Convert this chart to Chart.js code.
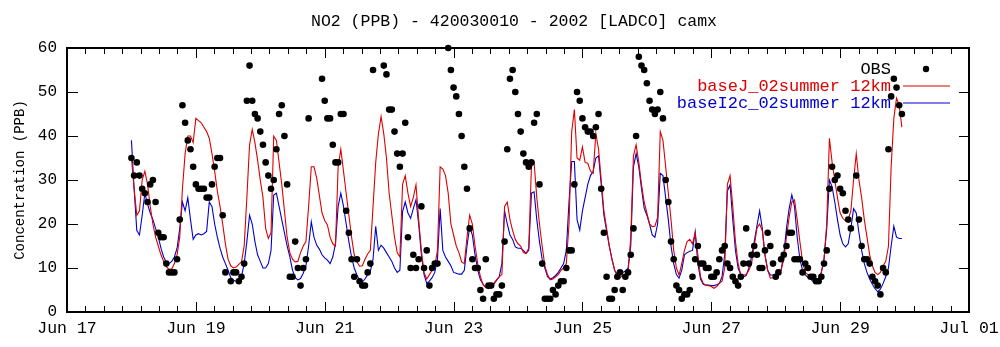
<!DOCTYPE html>
<html>
<head>
<meta charset="utf-8">
<script src="https://cdn.jsdelivr.net/npm/chart.js@4.4.1/dist/chart.umd.min.js"></script>
<style>
  html, body { margin: 0; padding: 0; background: #fff; }
  #wrap { width: 1000px; height: 347px; position: relative; }
</style>
</head>
<body>
<div id="wrap"><canvas id="c" width="1000" height="347"></canvas></div>
<script>
// NO2 hourly concentrations (ppb) at site 420030010, 2002-06-18 00:00 .. 2002-06-29 23:00
const chartTitle = 'NO2 (PPB) - 420030010 - 2002 [LADCO] camx';
const yTitle = 'Concentration (PPB)';
const firstHour = 24;            // hours after Jun 17 00:00 of the first record
const xTickLabels = ['Jun 17', 'Jun 19', 'Jun 21', 'Jun 23', 'Jun 25', 'Jun 27', 'Jun 29', 'Jul 01'];
const xTickStep = 48;            // hours between labelled ticks
const yTicks = [0, 10, 20, 30, 40, 50, 60];

const seriesNames = ['OBS', 'baseJ_02summer 12km', 'baseI2c_02summer 12km'];

const obs = [
  35,31,34,31,28,27,25,29,30,25, 18,17,17,11,9,9,9,12,21,47,
  43,39,37,33,29,28,28,28,26,26, 29,33,35,35,22,9,null,7,9,9,
  7,8,11,48,56,48,45,44,41,38, 34,31,28,30,37,45,47,40,29,8,
  8,16,10,6,10,12,44,null,null,null, null,53,48,44,44,38,34,34,45,45,
  23,18,12,8,12,7,6,6,9,11, 55,null,null,null,56,54,46,46,41,36,
  33,36,43,17,10,13,10,12,24,10, 14,6,10,11,11,null,null,null,60,55,
  51,49,45,40,33,28,19,12,10,10, 5,3,12,6,6,3,4,4,6,16,
  37,53,55,50,45,41,36,34,33,34, 43,45,29,11,3,3,3,5,4,6,
  7,7,10,14,14,29,50,48,44,42, 41,41,40,42,45,28,18,8,3,3,
  5,8,9,5,8,9,13,19,40,58, 56,55,52,48,46,45,46,50,44,30,
  25,16,12,6,5,3,4,4,5,8, 12,15,11,11,10,10,8,8,9,12,
  14,15,11,10,8,7,6,8,11,19, 11,13,15,13,10,10,14,18,15,11,
  8,9,12,13,15,18,18,12,12,12, 9,11,10,8,8,7,7,8,11,14,
  28,33,30,31,28,27,23,21,19,null, 31,21,15,12,12,11,8,7,6,4,
  10,9,37,49,53,51,47,45
];

const baseJ = [
  35,28,22,23,30,32,29,24,20,17,15,13,
  11.5,10.3,9.7,9.8,11,13,17,28,36,40,40,38.5,
  44,43.5,43,42,41,39.5,36,32,27.5,24,20,15.5,
  12,10.5,10,10.2,10.8,11.4,15,26,38,41.5,38.5,34.5,
  30,26,19,16.7,18,40,39,34,29,23,17,13.5,
  12,11.4,11.5,13.5,15,16,24,33,33,30.5,26.5,22.5,
  20.8,19.8,17,15.5,15,33,37,32,27,22,17,13,
  11.4,10.4,10.5,12,13.2,14,24,34,40.5,44.4,40.5,35,
  27,22,17,13.5,12.5,29,31,27,24,26,28.9,21,
  14,9,7.5,8.5,9.5,10.5,14,33,32.5,31,27,20,
  17.5,15,13.5,11.4,11,17,22,20,15,11,8,6.2,
  5.5,5.4,6,6.5,7.3,8,8.5,24,25,21,18.5,16.5,
  15.5,15,13.5,13.3,14.5,33,34,26,20,15,10.5,8.5,
  7.3,7.5,8,8.5,9.5,10,11,20,41,46,35,34.5,
  37.5,34,33.8,32,31.5,40.6,37,30,23,19,15,12,
  9.5,8,7.8,8.3,8.6,9,17,35.5,38,34,29,25,
  22.5,20,19.4,19.5,21.5,41,39,33,27,21,14,10,
  8.4,11,14,16,16.5,15.5,18,13,8,6.5,6.1,6,
  5.8,5.4,5.8,6.5,7,10,29,31,24,16,11,8.4,
  8.4,8.5,9.5,11,15,19,20,18.5,13,9.5,7.7,7.8,
  8.3,8.5,9.5,12,17,21.5,25,25.5,21,16,11.5,9,
  8.5,8.3,7.5,7,7.5,9,12,20,39.5,34,30,26,
  22.5,21.3,20.7,21,23,30,36,30,26,21,17,13,
  10.5,9,8.5,9,10.5,11.5,15,33,44,48.6,47,42
];

const baseI2c = [
  39,28,18.5,17.5,22,27,24.5,22.5,21,19,17,14.5,
  12.5,11.3,11,11.5,12.5,14.5,19,25,23,26,21,16.5,
  17.5,17.8,17.5,17.8,18.3,25,24,20,17,14.5,12.5,11,
  9.5,7.8,7.2,7,7.3,8,11,16,22,20,16,13,
  11.5,10,10,11,14,26.6,27,24,21,18,15,12.6,
  9.5,7.8,7.3,7.6,8.8,10.5,15,20.5,17,15.2,14.3,13,
  12.3,11.8,11,12.5,15.5,24,27,24,20,16,12.5,10,
  8.4,7.2,6.8,7.5,8.5,9.2,12,19.5,14,15.2,14.5,13.5,
  12.5,11.5,10,9,9.5,22.8,25,22.5,21.3,23.5,25.5,20,
  13,8.5,6.5,7,7.8,9,12,23.5,14,12.5,11.5,10.5,
  9,8.8,8.6,8.6,9.5,15,19.4,17.5,13,9.5,7.3,6.3,
  5.6,5.3,5.6,6.3,7.2,8,11,23,20,17.5,16.5,14.8,
  14.5,14.5,14,13.3,14,27,27.3,21,16,12,10,8,
  7.5,7.8,8.3,9,10,11,14,25,34.2,34.2,21,18.6,
  23,26,29,31,32,35,35.5,29,22,18.5,15,12,
  9.5,8.5,8.8,9,9.3,10,15,33,36,33,28,23.6,
  22,20,17.5,17,20,31.5,31,26,21,15,11,8.5,
  7.7,9.5,13,13.5,13.8,14,18.2,11,7.5,6.3,6.1,6.1,
  6,6,6.2,6.5,8,13,27.5,28.9,21,14,10,8.5,
  8,8.3,10,12.5,16,19.5,23,19,13,9.5,8.4,8.4,
  8.4,8.4,9.5,13,19,23.5,26.6,24,17,12,9.5,8.5,
  7.8,7.5,6.9,7,7.5,9,12,19,30,28.5,25,21,
  17.5,15.5,14.8,15.5,19,23.5,22.5,18,14,11,9,7.5,
  6.3,5.3,4.6,5.2,6.5,8,10,15,19.5,17,16.7,16.7
];

const toPoints = arr => arr.map((v, i) => ({ x: firstHour + i, y: v }));

const FONT = '"Liberation Mono", "DejaVu Sans Mono", monospace';
const RED = '#dd0000';
const BLUE = '#0000cc';

// Frame, inward tick marks, axis labels, title and legend
const decorations = {
  id: 'decorations',
  afterDatasetsDraw(chart) {
    const { ctx, chartArea: a, scales: { x, y } } = chart;
    ctx.save();
    ctx.strokeStyle = '#000';
    ctx.lineWidth = 1;
    ctx.beginPath();
    const xMax = xTickStep * (xTickLabels.length - 1);
    for (let m = 0; m < xMax; m += xTickStep) {
      for (let k = 0; k <= 7; k++) {
        const px = Math.round(x.getPixelForValue(m + k * xTickStep / 7)) + 0.5;
        const len = k === 0 || k === 7 ? 10 : 6;
        ctx.moveTo(px, a.bottom); ctx.lineTo(px, a.bottom - len);
        ctx.moveTo(px, a.top); ctx.lineTo(px, a.top + len);
      }
    }
    yTicks.forEach(v => {
      const py = Math.round(y.getPixelForValue(v)) + 0.5;
      ctx.moveTo(a.left, py); ctx.lineTo(a.left + 11, py);
      ctx.moveTo(a.right, py); ctx.lineTo(a.right - 10, py);
    });
    ctx.stroke();
    ctx.lineWidth = 2;
    ctx.strokeRect(a.left, a.top, a.right - a.left, a.bottom - a.top);

    ctx.fillStyle = '#000';
    ctx.font = '16px ' + FONT;
    ctx.textAlign = 'right';
    ctx.textBaseline = 'middle';
    yTicks.forEach(v => ctx.fillText(String(v), a.left - 10, y.getPixelForValue(v)));
    ctx.textAlign = 'center';
    ctx.textBaseline = 'top';
    ctx.font = '16.5px ' + FONT;
    xTickLabels.forEach((t, i) => ctx.fillText(t, x.getPixelForValue(i * xTickStep), a.bottom + 8));

    ctx.font = '16.5px ' + FONT;
    ctx.textBaseline = 'middle';
    ctx.fillText(chartTitle, 514, 22);

    ctx.save();
    ctx.translate(20, (a.top + a.bottom) / 2);
    ctx.rotate(-Math.PI / 2);
    ctx.font = '14px ' + FONT;
    ctx.fillText(yTitle, 0, 0);
    ctx.restore();

    // legend
    ctx.font = '17px ' + FONT;
    ctx.textAlign = 'right';
    const rows = [69, 86, 103];
    chart.data.datasets.forEach((ds, i) => {
      ctx.fillStyle = i === 0 ? '#000' : ds.borderColor;
      ctx.fillText(ds.label, 891, rows[i]);
      if (i === 0) {
        ctx.beginPath();
        ctx.arc(926, rows[i], 3.2, 0, Math.PI * 2);
        ctx.fill();
      } else {
        ctx.strokeStyle = ds.borderColor;
        ctx.lineWidth = 1.2;
        ctx.beginPath();
        ctx.moveTo(903, rows[i]); ctx.lineTo(950, rows[i]);
        ctx.stroke();
      }
    });
    ctx.restore();
  }
};

new Chart(document.getElementById('c'), {
  type: 'line',
  data: {
    datasets: [
      { label: seriesNames[0], data: toPoints(obs), showLine: false, pointRadius: 3.3,
        pointBackgroundColor: '#000', pointBorderWidth: 0, borderColor: '#000', clip: 6 },
      { label: seriesNames[1], data: toPoints(baseJ), borderColor: RED, borderWidth: 1.1,
        pointRadius: 0, tension: 0 },
      { label: seriesNames[2], data: toPoints(baseI2c), borderColor: BLUE, borderWidth: 1.1,
        pointRadius: 0, tension: 0 }
    ]
  },
  options: {
    responsive: false,
    animation: false,
    layout: { padding: { left: 67, right: 31, top: 48, bottom: 35 } },
    plugins: { legend: { display: false }, title: { display: false }, tooltip: { enabled: false } },
    scales: {
      x: { type: 'linear', min: 0, max: xTickStep * (xTickLabels.length - 1), display: false },
      y: { type: 'linear', min: 0, max: 60, display: false }
    }
  },
  plugins: [decorations]
});
</script>
</body>
</html>
